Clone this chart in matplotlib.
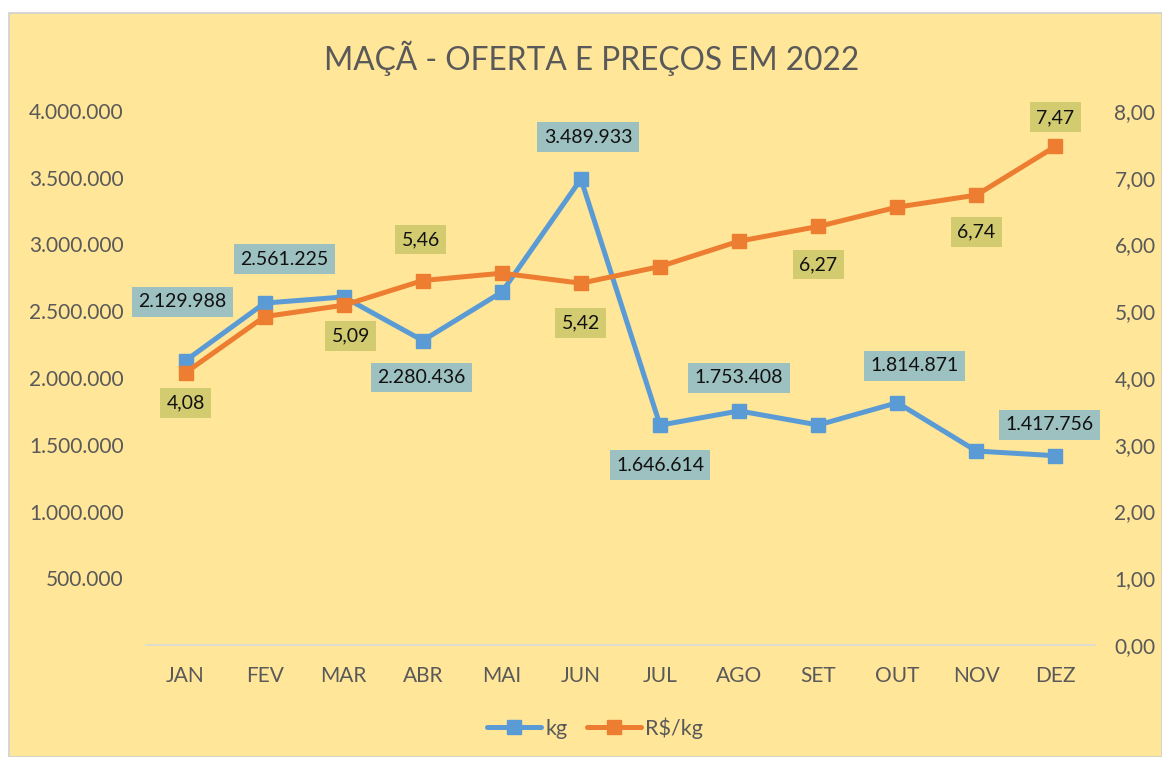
import matplotlib
matplotlib.use("Agg")
import matplotlib.pyplot as plt
from matplotlib.patches import Rectangle
from matplotlib.lines import Line2D

plt.rcParams['font.family'] = ['Lato', 'DejaVu Sans']

months = ["JAN", "FEV", "MAR", "ABR", "MAI", "JUN", "JUL", "AGO", "SET", "OUT", "NOV", "DEZ"]
kg = [2129988, 2561225, 2607000, 2280436, 2644000, 3489933, 1646614, 1753408, 1648000, 1814871, 1453000, 1417756]
price = [4.08, 4.92, 5.09, 5.46, 5.57, 5.42, 5.67, 6.05, 6.27, 6.56, 6.74, 7.47]
kg_labeled = [True, True, False, True, False, True, True, True, False, True, False, True]
price_labeled = [True, False, True, True, False, True, False, False, True, False, True, True]
left_ticks = [500000, 1000000, 1500000, 2000000, 2500000, 3000000, 3500000, 4000000]
right_ticks = [0, 1, 2, 3, 4, 5, 6, 7, 8]

# label offsets in pixels (dx, dy), screen y up
kg_off = [(-3, 59), (20, 44), (0, 0), (-1, -37), (0, 0), (7, 42), (0, -40), (0, 33), (0, 0), (17, 37), (0, 0), (-6, 31)]
pr_off = [(0, -30), (0, 0), (7, -31), (-2, 41), (0, 0), (0, -40), (0, 0), (0, 0), (0, -38), (0, 0), (0, -37), (0, 29)]

W, H = 1162, 757
fig = plt.figure(figsize=(W / 100, H / 100), dpi=100)
fig.patch.set_facecolor('white')
bg = Rectangle((9 / W, 0), 1 - 9 / W, 1 - 13 / H, transform=fig.transFigure,
               facecolor='#FFE699', edgecolor='#D0D0D0', linewidth=1.2, zorder=-10)
fig.patches.append(bg)

ax = fig.add_axes([146 / W, 1 - 645 / H, (1095 - 146) / W, (645 - 111) / H])
ax.set_facecolor('none')
ax2 = ax.twinx()
ax2.set_facecolor('none')

x = list(range(len(months)))
blue = '#5B9BD5'
orange = '#ED7D31'
ax.plot(x, kg, color=blue, lw=3.6, marker='s', ms=9.5, solid_capstyle='round', zorder=3)
ax2.plot(x, price, color=orange, lw=3.6, marker='s', ms=9.5, solid_capstyle='round', zorder=3)

ax.set_xlim(-0.5, 11.5)
ax.set_ylim(0, 4000000)
ax2.set_ylim(0, 8)
ax.set_xticks(x)
ax.set_xticklabels(months)
ax.set_yticks(left_ticks)
ax.set_yticklabels([f"{v:,}".replace(",", ".") for v in left_ticks])
ax2.set_yticks(right_ticks)
ax2.set_yticklabels([f"{v:.2f}".replace(".", ",") for v in right_ticks])

for a in (ax, ax2):
    for s in a.spines.values():
        s.set_visible(False)
    a.tick_params(length=0, labelsize=15, labelcolor='#595959')
ax.spines['bottom'].set_visible(True)
ax.spines['bottom'].set_color('#D9D9D9')
ax.spines['bottom'].set_linewidth(1.2)
ax.tick_params(axis='x', pad=15)
ax.tick_params(axis='y', pad=16)
ax2.tick_params(axis='y', pad=14)

px = 0.72
for i in x:
    if kg_labeled[i]:
        dx, dy = kg_off[i]
        ax2.annotate(f"{kg[i]:,}".replace(",", "."), xy=(i, kg[i] / 500000), xytext=(dx * px, dy * px),
                     textcoords='offset points', ha='center', va='center', fontsize=14, color='#111111',
                     bbox=dict(boxstyle='square,pad=0.33', fc='#9DC1C0', ec='none'), zorder=5)
    if price_labeled[i]:
        dx, dy = pr_off[i]
        ax2.annotate(f"{price[i]:.2f}".replace(".", ","), xy=(i, price[i]), xytext=(dx * px, dy * px),
                     textcoords='offset points', ha='center', va='center', fontsize=14, color='#111111',
                     bbox=dict(boxstyle='square,pad=0.33', fc='#D2CB6F', ec='none'), zorder=5)

fig.text(592 / W, 1 - 58 / H, "MAÇÃ - OFERTA E PREÇOS EM 2022", ha='center', va='center',
         fontsize=22.8, color='#595959')

handles = [Line2D([], [], color=blue, lw=3.6, marker='s', ms=9.5, solid_capstyle='round'),
           Line2D([], [], color=orange, lw=3.6, marker='s', ms=9.5, solid_capstyle='round')]
fig.legend(handles, ['kg', 'R$/kg'], loc='center', bbox_to_anchor=(595 / W, 1 - 728 / H), ncol=2,
           frameon=False, fontsize=15.5, labelcolor='#595959', handlelength=2.5, handletextpad=0.2,
           columnspacing=0.9)

fig.savefig('out.png', dpi=100)
